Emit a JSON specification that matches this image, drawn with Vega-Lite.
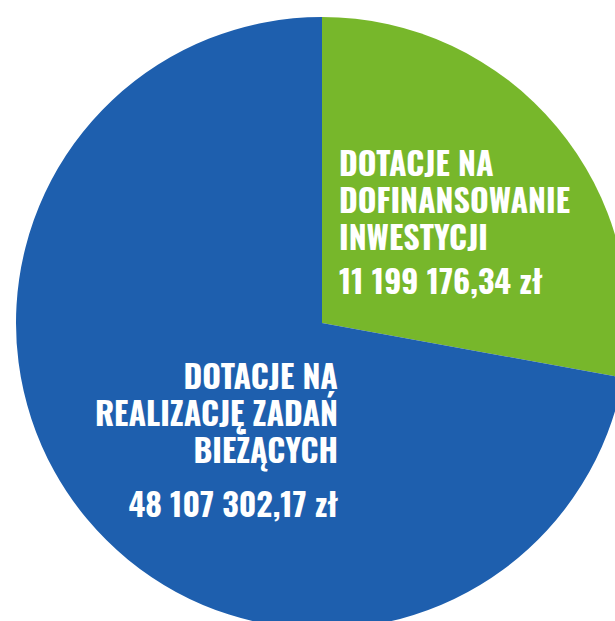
{
  "$schema": "https://vega.github.io/schema/vega-lite/v6.json",
  "autosize": "none",
  "padding": {"left": 29, "top": 25, "right": 0, "bottom": 0},
  "width": 586,
  "height": 596,
  "background": "white",
  "config": {"view": {"stroke": null}},
  "data": {
    "values": [
      {"category": "Dotacje na dofinansowanie inwestycji", "share": 27.86, "title": "DOTACJE NA\nDOFINANSOWANIE\nINWESTYCJI", "amount": "11 199 176,34 zł"},
      {"category": "Dotacje na realizację zadań bieżących", "share": 72.14, "title": "DOTACJE NA\nREALIZACJĘ ZADAŃ\nBIEŻĄCYCH", "amount": "48 107 302,17 zł"}
    ]
  },
  "layer": [
    {
      "mark": {"type": "arc", "outerRadius": 306, "stroke": null},
      "encoding": {
        "theta": {"field": "share", "type": "quantitative", "stack": true},
        "order": {"field": "share", "sort": "ascending"},
        "color": {
          "field": "category",
          "type": "nominal",
          "scale": {"domain": ["Dotacje na dofinansowanie inwestycji", "Dotacje na realizację zadań bieżących"], "range": ["#77b72b", "#1e5fae"]},
          "legend": null
        }
      }
    },
    {
      "transform": [{"filter": "datum.share < 50"}],
      "mark": {"type": "text", "align": "left", "baseline": "alphabetic", "dx": 17, "dy": -147, "lineBreak": "\n", "lineHeight": 37, "font": "Oswald, Roboto Condensed, Open Sans Condensed, Liberation Sans Narrow, Arial Narrow, sans-serif", "fontWeight": "bold", "fontSize": 32, "fill": "white"},
      "encoding": {"text": {"field": "title", "type": "nominal"}}
    },
    {
      "transform": [{"filter": "datum.share < 50"}],
      "mark": {"type": "text", "align": "left", "baseline": "alphabetic", "dx": 17, "dy": -29, "font": "Oswald, Roboto Condensed, Open Sans Condensed, Liberation Sans Narrow, Arial Narrow, sans-serif", "fontWeight": "bold", "fontSize": 32, "fill": "white"},
      "encoding": {"text": {"field": "amount", "type": "nominal"}}
    },
    {
      "transform": [{"filter": "datum.share > 50"}],
      "mark": {"type": "text", "align": "right", "baseline": "alphabetic", "dx": 16, "dy": 66, "lineBreak": "\n", "lineHeight": 37, "font": "Oswald, Roboto Condensed, Open Sans Condensed, Liberation Sans Narrow, Arial Narrow, sans-serif", "fontWeight": "bold", "fontSize": 32, "fill": "white"},
      "encoding": {"text": {"field": "title", "type": "nominal"}}
    },
    {
      "transform": [{"filter": "datum.share > 50"}],
      "mark": {"type": "text", "align": "right", "baseline": "alphabetic", "dx": 16, "dy": 194, "font": "Oswald, Roboto Condensed, Open Sans Condensed, Liberation Sans Narrow, Arial Narrow, sans-serif", "fontWeight": "bold", "fontSize": 32, "fill": "white"},
      "encoding": {"text": {"field": "amount", "type": "nominal"}}
    }
  ]
}
